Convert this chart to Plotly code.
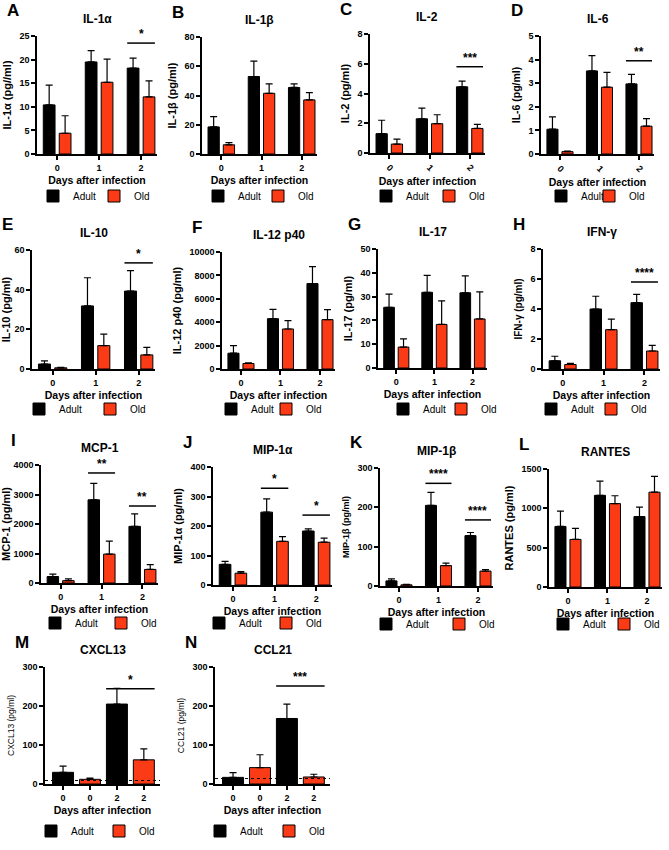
import plotly.graph_objects as go

W, H = 669, 850
FONT = "Liberation Sans, Arial, sans-serif"
RED = "#fb3a16"

# ---------------- data ----------------
days = ["0", "1", "2"]
day_pos = [0, 1, 2]

il1a_adult = [10.4, 19.5, 18.2]; il1a_adult_err = [4.2, 2.4, 2.1]
il1a_old = [4.4, 15.2, 12.1];    il1a_old_err = [3.7, 4.9, 3.4]

il1b_adult = [18.5, 53.0, 45.5]; il1b_adult_err = [7.0, 10.5, 2.5]
il1b_old = [6.3, 41.5, 37.0];    il1b_old_err = [1.5, 6.5, 5.0]

il2_adult = [1.3, 2.3, 4.45];    il2_adult_err = [0.9, 0.72, 0.38]
il2_old = [0.6, 1.97, 1.65];     il2_old_err = [0.33, 0.6, 0.28]

il6_adult = [1.05, 3.52, 2.97];  il6_adult_err = [0.52, 0.65, 0.4]
il6_old = [0.1, 2.83, 1.18];     il6_old_err = [0.02, 0.63, 0.32]

il10_adult = [2.5, 31.8, 39.3];  il10_adult_err = [1.6, 14.2, 10.3]
il10_old = [0.6, 11.8, 7.1];     il10_old_err = [0.2, 5.8, 3.8]

il12_adult = [1350, 4300, 7300]; il12_adult_err = [650, 800, 1450]
il12_old = [470, 3420, 4220];    il12_old_err = [60, 720, 850]

il17_adult = [25.5, 31.8, 31.6]; il17_adult_err = [5.5, 7.1, 7.1]
il17_old = [8.8, 18.3, 20.6];    il17_old_err = [3.4, 9.9, 11.4]

ifng_adult = [0.55, 4.0, 4.42];  ifng_adult_err = [0.3, 0.85, 0.55]
ifng_old = [0.3, 2.62, 1.2];     ifng_old_err = [0.07, 0.7, 0.38]

mcp1_adult = [220, 2820, 1920];  mcp1_adult_err = [80, 560, 420]
mcp1_old = [80, 980, 460];       mcp1_old_err = [60, 440, 160]

mip1a_adult = [70, 247, 183];    mip1a_adult_err = [10, 45, 7]
mip1a_old = [40, 148, 145];      mip1a_old_err = [5, 16, 14]

mip1b_adult = [13, 205, 128];    mip1b_adult_err = [5, 33, 8]
mip1b_old = [3, 52, 38];         mip1b_old_err = [1, 6, 4]

rantes_adult = [770, 1165, 895]; rantes_adult_err = [195, 180, 120]
rantes_old = [605, 1060, 1205];  rantes_old_err = [140, 100, 200]

# M, N: four separate bars
mn_ticks = ["0", "0", "2", "2"]
mn_adult_pos = [0, 2]
mn_old_pos = [1, 3]
cxcl13_adult = [30, 205];  cxcl13_adult_err = [16, 40]
cxcl13_old = [12, 62];     cxcl13_old_err = [3, 28]
cxcl13_limit = 9
ccl21_adult = [17, 168];   ccl21_adult_err = [12, 37]
ccl21_old = [42, 18];      ccl21_old_err = [33, 7]
ccl21_limit = 14

# significance: (x from, x to, y, label)
sig_A = [(1.67, 2.33, 23.5, "*")]
sig_C = [(1.67, 2.33, 5.8, "***")]
sig_D = [(1.67, 2.33, 3.95, "**")]
sig_E = [(1.67, 2.33, 53.5, "*")]
sig_H = [(1.67, 2.33, 5.8, "****")]
sig_I = [(0.67, 1.33, 3730, "**"), (1.67, 2.33, 2610, "**")]
sig_J = [(0.67, 1.33, 328, "*"), (1.67, 2.33, 237, "*")]
sig_K = [(0.67, 1.33, 261, "****"), (1.67, 2.33, 168, "****")]
sig_M = [(1.6, 3.4, 244, "*")]
sig_N = [(1.6, 3.4, 251, "***")]

# ---------------- panel layout (pixels) ----------------
# box = (x0, x1, y0, y1) of plot area; leg = (adult box left, old box left, legend row y)
panels = [
    ("A", "IL-1α", "IL-1α (pg//ml)", il1a_adult, il1a_adult_err, il1a_old, il1a_old_err, 25, 5, sig_A, (37, 157, 36, 154), (47, 108, 196), 0, 11),
    ("B", "IL-1β", "IL-1β (pg/ml)", il1b_adult, il1b_adult_err, il1b_old, il1b_old_err, 80, 20, [], (202, 317, 37, 154), (212, 272, 196), 0, 11),
    ("C", "IL-2", "IL-2 (pg/ml)", il2_adult, il2_adult_err, il2_old, il2_old_err, 8, 2, sig_C, (370, 485, 34, 153), (380, 443, 196), 45, 11),
    ("D", "IL-6", "IL-6 (pg/ml)", il6_adult, il6_adult_err, il6_old, il6_old_err, 5, 1, sig_D, (541, 654, 36, 154), (555, 603, 196), 45, 10.5),
    ("E", "IL-10", "IL-10 (pg/ml)", il10_adult, il10_adult_err, il10_old, il10_old_err, 60, 20, sig_E, (32, 155, 250, 369), (33, 104, 409), 0, 11),
    ("F", "IL-12 p40", "IL-12 p40 (pg/ml)", il12_adult, il12_adult_err, il12_old, il12_old_err, 10000, 2000, [], (222, 335, 252, 369), (225, 280, 409), 0, 11),
    ("G", "IL-17", "IL-17 (pg/ml)", il17_adult, il17_adult_err, il17_old, il17_old_err, 50, 10, [], (378, 487, 249, 368), (397, 455, 409), 0, 11),
    ("H", "IFN-γ", "IFN-γ (pg/ml)", ifng_adult, ifng_adult_err, ifng_old, ifng_old_err, 8, 2, sig_H, (543, 660, 249, 369), (545, 605, 409), 0, 10),
    ("I", "MCP-1", "MCP-1 (pg/ml)", mcp1_adult, mcp1_adult_err, mcp1_old, mcp1_old_err, 4000, 1000, sig_I, (41, 158, 465, 583), (49, 115, 623), 0, 11),
    ("J", "MIP-1α", "MIP-1α (pg/ml)", mip1a_adult, mip1a_adult_err, mip1a_old, mip1a_old_err, 400, 100, sig_J, (213, 332, 467, 585), (213, 280, 623), 0, 11),
    ("K", "MIP-1β", "MIP-1β (pg/ml)", mip1b_adult, mip1b_adult_err, mip1b_old, mip1b_old_err, 300, 100, sig_K, (380, 493, 468, 586), (380, 453, 624), 0, 9),
    ("L", "RANTES", "RANTES (pg/ml)", rantes_adult, rantes_adult_err, rantes_old, rantes_old_err, 1500, 500, [], (549, 662, 469, 587), (557, 618, 624), 0, 11),
]
panels_mn = [
    ("M", "CXCL13", "CXCL13 (pg/ml)", cxcl13_adult, cxcl13_adult_err, cxcl13_old, cxcl13_old_err, 300, 100, sig_M, (45, 160, 667, 784), (45, 113, 831), cxcl13_limit),
    ("N", "CCL21", "CCL21 (pg/ml)", ccl21_adult, ccl21_adult_err, ccl21_old, ccl21_old_err, 300, 100, sig_N, (215, 330, 667, 784), (214, 283, 831), ccl21_limit),
]

fig = go.Figure()
layout = dict(
    width=W, height=H, autosize=False,
    margin=dict(l=0, r=0, t=0, b=0),
    paper_bgcolor="white", plot_bgcolor="white",
    barmode="overlay", showlegend=True,
    font=dict(family=FONT, color="black"),
)
annotations = []
shapes = []


def px_x(p):
    return p / W


def px_y(p):
    return 1 - p / H


def axis_common():
    return dict(showline=True, linecolor="black", linewidth=1.5, ticks="outside",
                ticklen=4, tickwidth=1.5, tickcolor="black", showgrid=False,
                zeroline=False, automargin=False,
                tickfont=dict(family=FONT, size=9, color="black", weight="bold"))


def legend_dict(box_left, row_y):
    return dict(orientation="h", x=px_x(box_left - 14), y=px_y(row_y),
                xanchor="left", yanchor="middle", itemwidth=30, bgcolor="rgba(0,0,0,0)",
                font=dict(family=FONT, size=10, color="black"), tracegroupgap=0)


def add_panel(i, letter, title, ytitle, adult, adult_err, old, old_err, ymax, dtick, sig, box,
              leg, positions, ticktext, adult_x, old_x, xrange, width, off_a, off_o,
              tickangle=0, ytsize=11, ytbold=True, limit=None):
    x0, x1, y0, y1 = box
    xa = "x" if i == 1 else f"x{i}"
    ya = "y" if i == 1 else f"y{i}"
    xkey = "xaxis" if i == 1 else f"xaxis{i}"
    ykey = "yaxis" if i == 1 else f"yaxis{i}"
    la = "legend" if i == 1 else f"legend{2 * i - 1}"
    lo = f"legend{2 * i}"

    fig.add_trace(go.Bar(
        x=adult_x, y=adult, name="Adult", width=width, offset=off_a,
        marker=dict(color="black", line=dict(color="black", width=1)),
        error_y=dict(type="data", array=adult_err, arrayminus=[0] * len(adult_err),
                     symmetric=False, color="black", thickness=1.2, width=3.5),
        xaxis=xa, yaxis=ya, legend=la))
    fig.add_trace(go.Bar(
        x=old_x, y=old, name="Old", width=width, offset=off_o,
        marker=dict(color=RED, line=dict(color="black", width=1)),
        error_y=dict(type="data", array=old_err, arrayminus=[0] * len(old_err),
                     symmetric=False, color="black", thickness=1.2, width=3.5),
        xaxis=xa, yaxis=ya, legend=lo))

    xax = axis_common()
    xax.update(domain=[px_x(x0), px_x(x1)], anchor=ya, range=xrange,
               tickmode="array", tickvals=positions, ticktext=ticktext, tickangle=tickangle,
               title=dict(text="Days after infection", standoff=5,
                          font=dict(family=FONT, size=10.5, color="black", weight="bold")))
    yax = axis_common()
    yax.update(domain=[px_y(y1), px_y(y0)], anchor=xa, range=[0, ymax], dtick=dtick,
               tick0=0, tickformat="d",
               title=dict(text=ytitle, standoff=6,
                          font=dict(family=FONT, size=ytsize, color="black",
                                    weight="bold" if ytbold else "normal")))
    layout[xkey] = xax
    layout[ykey] = yax

    layout[la] = legend_dict(leg[0], leg[2])
    layout[lo] = legend_dict(leg[1], leg[2])

    annotations.append(dict(text=f"<b>{letter}</b>", xref="paper", yref="paper",
                            x=px_x(x0 - 32), y=px_y(y0 - 25), xanchor="left", yanchor="middle",
                            showarrow=False, font=dict(family=FONT, size=17, color="black")))
    annotations.append(dict(text=f"<b>{title}</b>", xref="paper", yref="paper",
                            x=px_x((x0 + x1) / 2), y=px_y(y0 - 17), xanchor="center",
                            yanchor="middle", showarrow=False,
                            font=dict(family=FONT, size=12, color="black")))
    for (sx0, sx1, sy, lab) in sig:
        shapes.append(dict(type="line", xref=xa, yref=ya, x0=sx0, x1=sx1, y0=sy, y1=sy,
                           line=dict(color="black", width=1.5)))
        annotations.append(dict(text=f"<b>{lab}</b>", xref=xa, yref=ya, x=(sx0 + sx1) / 2,
                                y=sy, yanchor="bottom", xanchor="center", showarrow=False,
                                yshift=0, font=dict(family=FONT, size=12, color="black")))
    if limit is not None:
        shapes.append(dict(type="line", xref=f"{xa} domain", yref=ya, x0=0, x1=1,
                           y0=limit, y1=limit, line=dict(color="black", width=1, dash="dot")))


i = 0
for p in panels:
    i += 1
    (letter, title, ytitle, a, ae, o, oe, ymax, dtick, sig, box, leg, ta, yts) = p
    add_panel(i, letter, title, ytitle, a, ae, o, oe, ymax, dtick, sig, box, leg,
              day_pos, days, day_pos, day_pos, [-0.48, 2.38], 0.28, -0.33, 0.05,
              tickangle=ta, ytsize=yts, ytbold=True)

for p in panels_mn:
    i += 1
    (letter, title, ytitle, a, ae, o, oe, ymax, dtick, sig, box, leg, lim) = p
    add_panel(i, letter, title, ytitle, a, ae, o, oe, ymax, dtick, sig, box, leg,
              [0, 1, 2, 3], mn_ticks, mn_adult_pos, mn_old_pos, [-0.67, 3.6], 0.78, -0.39, -0.39,
              ytsize=8.5, ytbold=False, limit=lim)

layout["annotations"] = annotations
layout["shapes"] = shapes
fig.update_layout(**layout)
fig.write_html("out.html", config={"displayModeBar": False},
               post_script="document.body.style.margin='0';")
